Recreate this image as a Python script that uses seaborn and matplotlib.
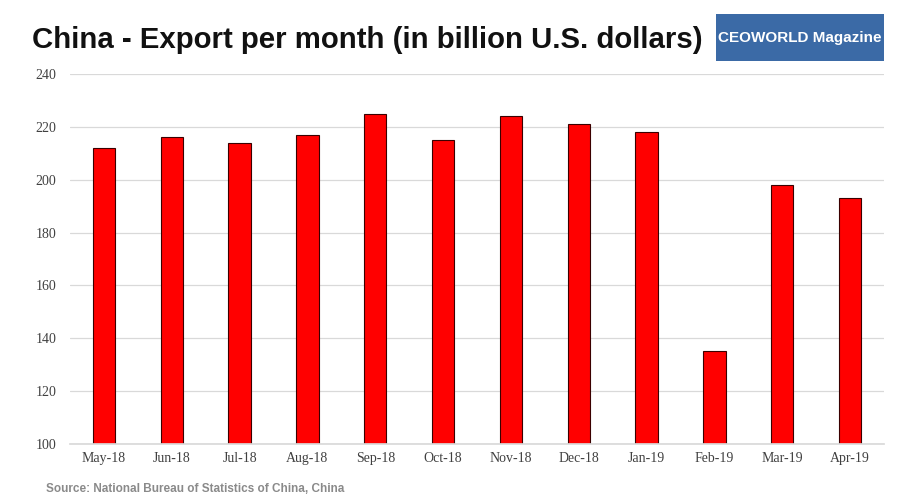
import matplotlib
matplotlib.use("Agg")
import matplotlib.pyplot as plt
import seaborn as sns
import pandas as pd
from matplotlib.patches import Rectangle

months = ["May-18", "Jun-18", "Jul-18", "Aug-18", "Sep-18", "Oct-18",
          "Nov-18", "Dec-18", "Jan-19", "Feb-19", "Mar-19", "Apr-19"]
exports = [212, 216, 214, 217, 225, 215, 224, 221, 218, 135, 198, 193]
yticks = [100, 120, 140, 160, 180, 200, 220, 240]

df = pd.DataFrame({"month": months, "export": exports})

sns.set_theme(style="white")
plt.rcParams['font.family'] = ['Liberation Serif', 'DejaVu Serif']

fig = plt.figure(figsize=(9, 4.96), dpi=100)
ax = fig.add_axes([70/900, 1 - 444/496, (884-70)/900, (444-74)/496])

sns.barplot(data=df, x="month", y="export", ax=ax, color="#ff0000",
            saturation=1, width=0.33, edgecolor="#3a0000", linewidth=0.8)

ax.set_ylim(100, 240)
ax.set_yticks(yticks)
ax.set_xlim(-0.5, len(months) - 0.5)
ax.yaxis.grid(True, color="#d9d9d9", linewidth=0.9)
ax.set_axisbelow(True)
for s in ["top", "right", "left"]:
    ax.spines[s].set_visible(False)
ax.spines["bottom"].set_color("#d9d9d9")
ax.set_xlabel("")
ax.set_ylabel("")
ax.tick_params(axis="both", length=0, labelsize=10, colors="#404040")
ax.tick_params(axis="y", pad=10)
ax.tick_params(axis="x", pad=6)

fig.text(32/900, 1 - 40/496, "China - Export per month (in billion U.S. dollars)",
         fontsize=21.2, fontweight="bold", color="#111111",
         family=["Liberation Sans"], va="center", ha="left")
fig.text(46/900, 1 - 489/496, "Source: National Bureau of Statistics of China, China",
         fontsize=8.5, fontweight="bold", color="#8a8a8a",
         family=["Liberation Sans"], va="center", ha="left")

logo = Rectangle((716/900, 1 - 61/496), 168/900, 47/496, transform=fig.transFigure,
                 facecolor="#3b6aa6", edgecolor="none")
fig.patches.append(logo)
fig.text(800/900, 1 - 38/496, "CEOWORLD Magazine", fontsize=11, fontweight="bold",
         color="white", family=["Liberation Sans"],
         va="center", ha="center")

fig.savefig("out.png", dpi=100)
